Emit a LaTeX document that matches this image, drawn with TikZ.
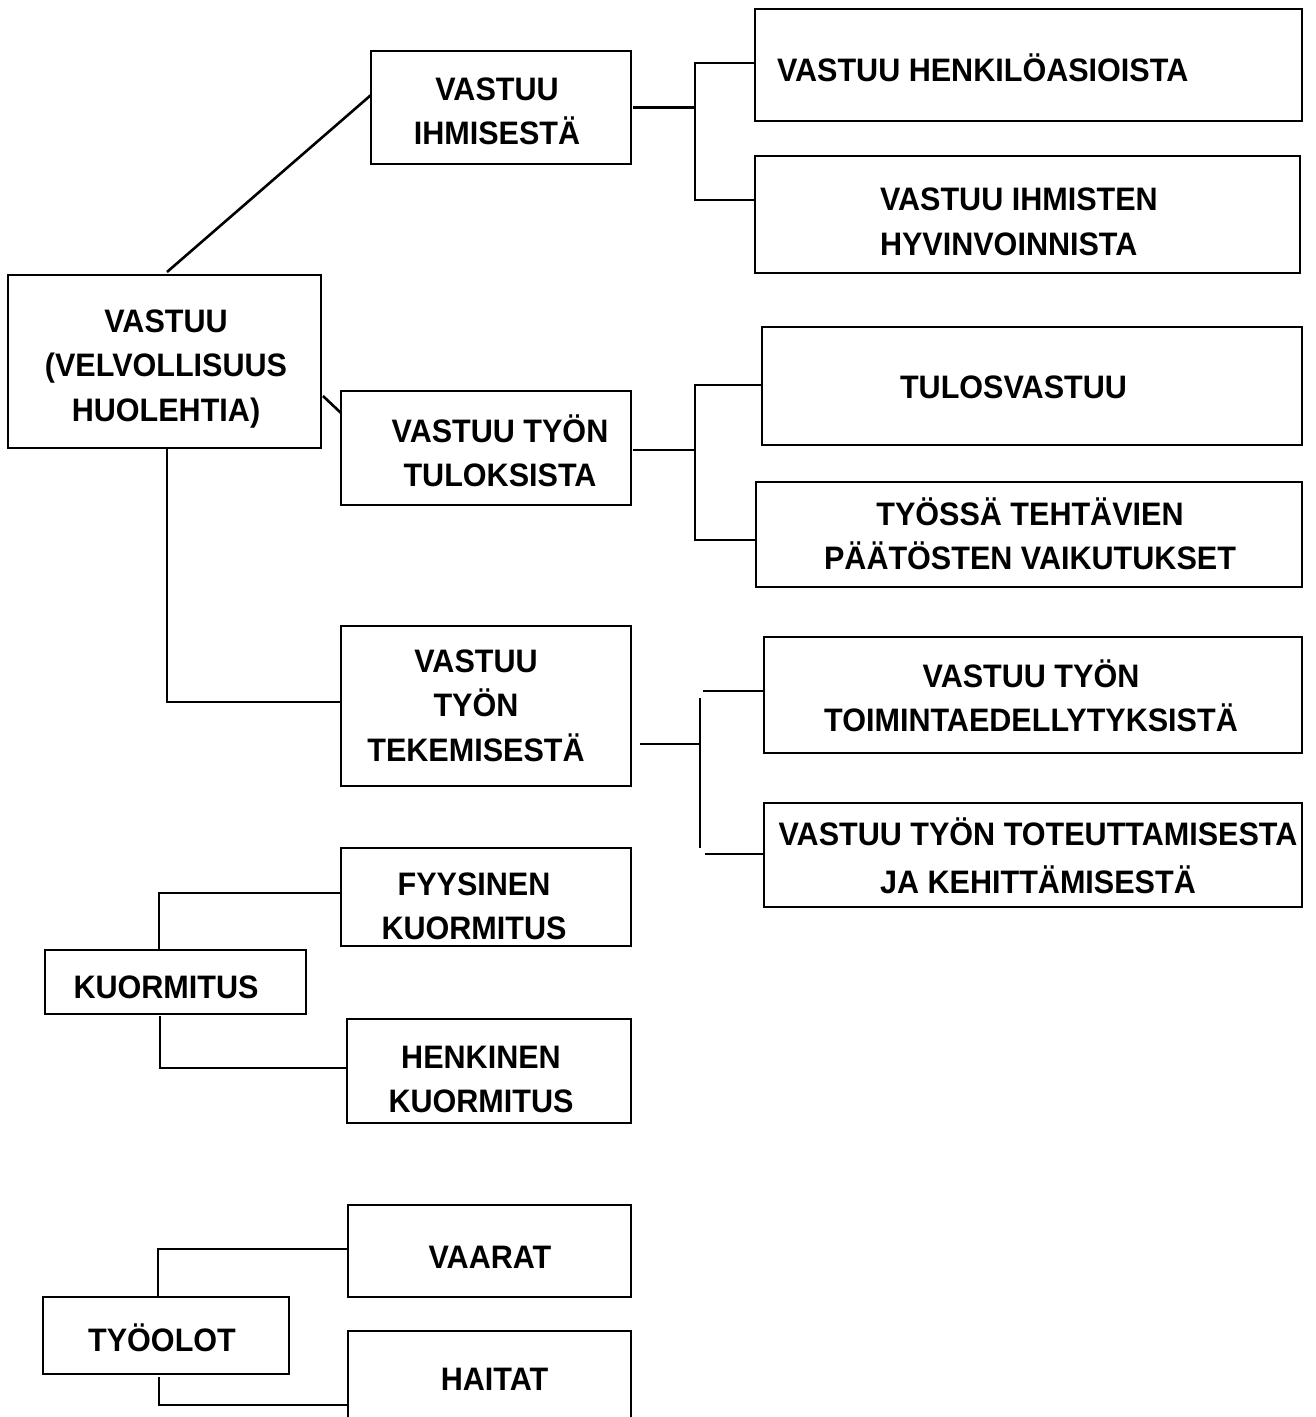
\documentclass[tikz,border=0pt]{standalone}
\usepackage{fontspec}
\setmainfont{Liberation Sans}[FakeStretch=0.94]
\newcommand\lns[1]{\begin{tabular}[t]{@{}c@{}}#1\end{tabular}}
\newcommand\lnsl[1]{\begin{tabular}[t]{@{}l@{}}#1\end{tabular}}
\tikzset{
  box/.style={draw, rectangle, line width=2.8pt, inner sep=0pt, outer sep=0pt},
  txt/.style={anchor=base, inner sep=0pt, outer sep=0pt, font=\fontsize{32.5}{44.5}\selectfont\bfseries},
  con/.style={line width=2.6pt, line cap=butt}
}
\begin{document}
\begin{tikzpicture}[x=1pt, y=-1pt]
\useasboundingbox (0,0) rectangle (1316,1417);
\fill[white] (0,0) rectangle (1316,1417);
\clip (0,0) rectangle (1316,1417);

% boxes
\node[box, minimum width=313pt, minimum height=173pt] (main) at (164.5,361.5) {};
\node[box, minimum width=260pt, minimum height=113pt] (ihm) at (501,107.5) {};
\node[box, minimum width=290pt, minimum height=114pt] (tul) at (486,448) {};
\node[box, minimum width=290pt, minimum height=160pt] (tek) at (486,706) {};
\node[box, minimum width=547pt, minimum height=112pt] (henk) at (1028.5,65) {};
\node[box, minimum width=545pt, minimum height=117pt] (hyv) at (1027.5,214.5) {};
\node[box, minimum width=540pt, minimum height=118pt] (tulos) at (1032,386) {};
\node[box, minimum width=546pt, minimum height=105pt] (tyossa) at (1029,534.5) {};
\node[box, minimum width=538pt, minimum height=116pt] (toim) at (1033,695) {};
\node[box, minimum width=538pt, minimum height=104pt] (tot) at (1033,855) {};
\node[box, minimum width=290pt, minimum height=98pt] (fyys) at (486,897) {};
\node[box, minimum width=261pt, minimum height=64pt] (kuor) at (175.5,982) {};
\node[box, minimum width=284pt, minimum height=104pt] (henkinen) at (489,1071) {};
\node[box, minimum width=283pt, minimum height=92pt] (vaarat) at (489.5,1251) {};
\node[box, minimum width=246pt, minimum height=77pt] (tyoolot) at (166,1335.5) {};
\node[box, minimum width=283pt, minimum height=98pt] (haitat) at (489.5,1380) {};

% texts
\node[txt] (tmain) at (166,332) {\lns{VASTUU\\(VELVOLLISUUS\\HUOLEHTIA)}};
\node[txt] (tihm) at (497,100) {\lns{VASTUU\\IHMISESTÄ}};
\node[txt] (ttul) at (500,442) {\lns{VASTUU TYÖN\\TULOKSISTA}};
\node[txt] (ttek) at (476,672) {\lns{VASTUU\\TYÖN\\TEKEMISESTÄ}};
\node[txt, anchor=base west] (thenk) at (777,81) {VASTUU HENKILÖASIOISTA};
\node[txt, anchor=base west] (thyv) at (880,210.5) {\lnsl{VASTUU IHMISTEN\\HYVINVOINNISTA}};
\node[txt] (ttulos) at (1013.5,398) {TULOSVASTUU};
\node[txt] (ttyossa) at (1030,525) {\lns{TYÖSSÄ TEHTÄVIEN\\PÄÄTÖSTEN VAIKUTUKSET}};
\node[txt] (ttoim) at (1031,687) {\lns{VASTUU TYÖN\\TOIMINTAEDELLYTYKSISTÄ}};
\node[txt] (ttot) at (1038,845) {\lns{VASTUU TYÖN TOTEUTTAMISESTA\\[3.5pt]JA KEHITTÄMISESTÄ}};
\node[txt] (tfyys) at (474,895) {\lns{FYYSINEN\\KUORMITUS}};
\node[txt] (tkuor) at (166,998) {KUORMITUS};
\node[txt] (thenkinen) at (481,1068) {\lns{HENKINEN\\KUORMITUS}};
\node[txt] (tvaarat) at (490,1268) {VAARAT};
\node[txt] (ttyoolot) at (162,1351) {TYÖOLOT};
\node[txt] (thaitat) at (494.5,1390) {HAITAT};

% connectors from main
\draw[con] ([shift={(2.5pt,3pt)}]main.north) -- ([yshift=12.5pt]ihm.west);
\draw[con] ([shift={(2pt,-34.5pt)}]main.east) -- ([yshift=35pt]tul.west);
\draw[con] ([xshift=2.5pt]main.south) |- ([yshift=4pt]tek.west);

% bracket 1
\coordinate (b1) at (695,107.5);
\draw[con] ([xshift=2pt]ihm.east) -- (b1);
\draw[con] ([yshift=2pt]henk.west) -| (b1) |- ([yshift=14.5pt]hyv.west);

% bracket 2
\coordinate (b2) at (695,450);
\draw[con] ([shift={(2pt,-2pt)}]tul.east) -- (b2);
\draw[con] ([yshift=1pt]tulos.west) -| (b2) |- ([yshift=-5.5pt]tyossa.west);

% bracket 3
\coordinate (b3) at (700,744);
\coordinate (b3t) at (700,698);
\coordinate (b3b) at (700,848);
\coordinate (b3u) at (703,691);
\coordinate (b3d) at (705,854);
\draw[con] ([shift={(9pt,-38pt)}]tek.east) -- (b3);
\draw[con] (b3t) -- (b3b);
\draw[con] (b3u) -- ([yshift=4pt]toim.west);
\draw[con] (b3d) -- ([yshift=1pt]tot.west);

% kuormitus
\draw[con] ([xshift=-16.5pt]kuor.north) |- ([yshift=4pt]fyys.west);
\draw[con] ([shift={(-15.5pt,-2pt)}]kuor.south) |- ([yshift=3pt]henkinen.west);

% tyoolot
\draw[con] ([xshift=-8pt]tyoolot.north) |- ([yshift=2pt]vaarat.west);
\draw[con] ([shift={(-7pt,-3pt)}]tyoolot.south) |- ([yshift=-25pt]haitat.west);
\end{tikzpicture}
\end{document}
